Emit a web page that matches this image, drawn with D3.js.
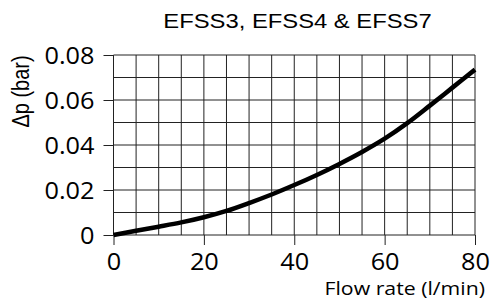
<!DOCTYPE html>
<html>
<head>
<meta charset="utf-8">
<script src="https://cdn.jsdelivr.net/npm/d3@7"></script>
<style>
  body { margin: 0; background: #fff; }
  svg { display: block; }
</style>
</head>
<body>
<div id="chart"></div>
<script>
// flow rate (l/min) vs pressure drop (bar)
var flow = [0, 5, 10, 15, 20, 25, 30, 35, 40, 45, 50, 55, 60, 65, 70, 75, 80];
var dp   = [0, 0.0019, 0.0037, 0.0056, 0.0079, 0.0107, 0.0142, 0.0180, 0.0222,
            0.0267, 0.0316, 0.0369, 0.0428, 0.0497, 0.0575, 0.0655, 0.0735];
var xTicks = [0, 20, 40, 60, 80];
var yTicks = [0, 0.02, 0.04, 0.06, 0.08];
var xGrid = d3.range(0, 81, 5);
var yGrid = [0, 0.01, 0.02, 0.03, 0.04, 0.05, 0.06, 0.07, 0.08];

var width = 491, height = 300;
// note: "top" is taken by window.top, so plot edges get a prefix
var plotL = 113.5, plotR = 475, plotT = 55, plotB = 235;
var sx = 1.1; // the source picture is a bit wider than normal type

var svg = d3.select("#chart").append("svg")
    .attr("width", width).attr("height", height);

var x = d3.scaleLinear().domain([0, 80]).range([plotL, plotR]);
var y = d3.scaleLinear().domain([0, 0.08]).range([plotB, plotT]);

// grid
svg.append("g").selectAll("line").data(xGrid).enter().append("line")
    .attr("x1", function(d) { return x(d); }).attr("x2", function(d) { return x(d); })
    .attr("y1", plotT).attr("y2", plotB)
    .attr("stroke", "#222").attr("stroke-width", 1);
svg.append("g").selectAll("line").data(yGrid).enter().append("line")
    .attr("y1", function(d) { return y(d); }).attr("y2", function(d) { return y(d); })
    .attr("x1", plotL).attr("x2", plotR)
    .attr("stroke", "#222").attr("stroke-width", 1);

// axes
var xAxis = svg.append("g")
    .attr("transform", "translate(0," + plotB + ")")
    .call(d3.axisBottom(x).tickValues(xTicks).tickSize(10)
        .tickFormat(d3.format("d")));
var yAxis = svg.append("g")
    .attr("transform", "translate(" + plotL + ",0)")
    .call(d3.axisLeft(y).tickValues(yTicks).tickSize(10)
        .tickFormat(function(d) { return d === 0 ? "0" : d3.format(".2f")(d); }));

[xAxis, yAxis].forEach(function(a) {
    a.select(".domain").remove();
    a.selectAll(".tick line").attr("stroke", "#222");
    a.selectAll(".tick text")
        .attr("fill", "#000")
        .attr("transform", "scale(" + sx + ",1)")
        .style("font-family", "'Open Sans', sans-serif")
        .style("font-size", "23px");
});
xAxis.selectAll(".tick text").attr("y", 35.5).attr("dy", 0);
yAxis.selectAll(".tick text").attr("x", -19 / sx).attr("dy", "0.35em");

// curve
svg.append("path")
    .datum(d3.zip(flow, dp))
    .attr("fill", "none")
    .attr("stroke", "#000")
    .attr("stroke-width", 4.5)
    .attr("d", d3.line()
        .x(function(d) { return x(d[0]); })
        .y(function(d) { return y(d[1]); })
        .curve(d3.curveCatmullRom));

// titles
svg.append("text")
    .attr("transform", "translate(297.5,28.3) scale(1.19,1)")
    .attr("text-anchor", "middle")
    .style("font-family", "'Liberation Sans', Arial, sans-serif")
    .style("font-size", "20px")
    .text("EFSS3, EFSS4 & EFSS7");

svg.append("text")
    .attr("transform", "translate(29,91.5) scale(1.15,1) rotate(-90)")
    .attr("text-anchor", "middle")
    .style("font-family", "'Liberation Sans', Arial, sans-serif")
    .style("font-size", "20px")
    .text("Δp (bar)");

svg.append("text")
    .attr("transform", "translate(485,295) scale(1.12,1)")
    .attr("text-anchor", "end")
    .style("font-family", "'Open Sans', sans-serif")
    .style("font-size", "19px")
    .text("Flow rate (l/min)");
</script>
</body>
</html>
